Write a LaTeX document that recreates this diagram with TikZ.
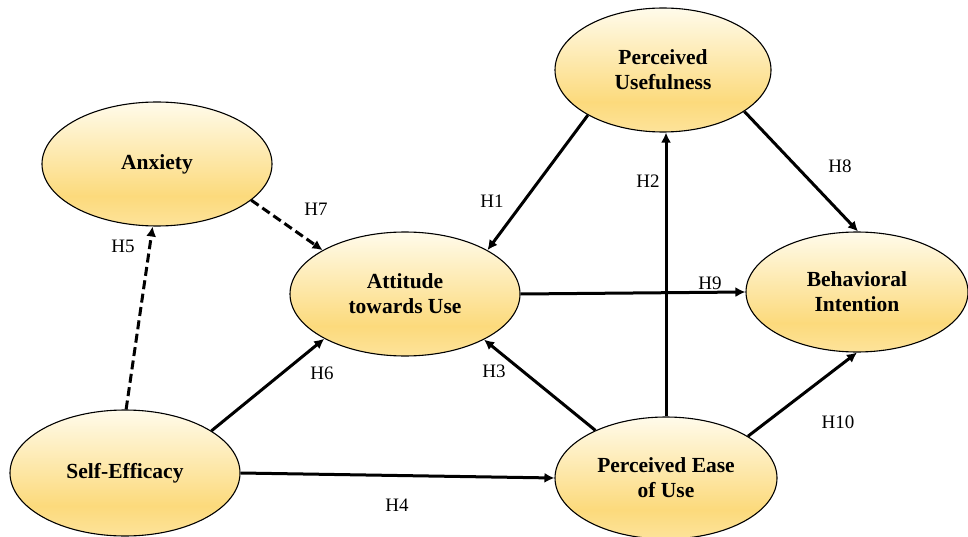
\documentclass[tikz,border=0pt]{standalone}
\usepackage{fontspec}
\setmainfont{Liberation Serif}
\usetikzlibrary{shapes.geometric,arrows.meta}
\definecolor{gTop}{HTML}{FFFBEB}
\definecolor{gGold}{HTML}{FCDA7C}
\definecolor{gBot}{HTML}{FDE39A}
\pgfdeclareverticalshading{goldsh}{100bp}{color(0bp)=(gBot); color(25bp)=(gBot); color(37bp)=(gGold); color(75bp)=(gTop); color(100bp)=(gTop)}
\begin{document}
\begin{tikzpicture}[x=1pt,y=-1pt,
  construct/.style={ellipse, draw=black, line width=1.1pt, shading=goldsh, inner sep=0pt, align=center,
    font=\bfseries\fontsize{21.5}{25}\selectfont},
  link/.style={line width=3pt, -{Latex[length=10pt,width=10pt]}},
  dlink/.style={link, dash pattern=on 9pt off 4.5pt},
  hyp/.style={font=\fontsize{19}{22}\selectfont, inner sep=0pt}
]
\useasboundingbox (0,0) rectangle (968,537);

\node[construct, minimum width=230pt, minimum height=124pt] (anx) at (157,164) {Anxiety};
\node[construct, minimum width=230pt, minimum height=124pt] (att) at (405,294) {Attitude\\towards Use};
\node[construct, minimum width=216pt, minimum height=124pt] (pu) at (663,70) {Perceived\\Usefulness};
\node[construct, minimum width=222pt, minimum height=122pt] (peou) at (666,478) {Perceived Ease\\of Use};
\node[construct, minimum width=230pt, minimum height=126pt] (se) at (125,473) {Self-Efficacy};
\node[construct, minimum width=222pt, minimum height=120pt] (bi) at (857,292) {Behavioral\\Intention};

\draw[dlink] (se.89) -- (anx.266);
\draw[dlink] (anx.339) -- (att.152);
\draw[link] (pu.211) -- (att.28.5);
\draw[link] (peou.north) -- (peou.north |- pu.south);
\draw[link] (pu.333) -- (bi.89);
\draw[link] (att.east) -- (bi.west);
\draw[link] (peou.146) -- (att.330);
\draw[link] (se.26.8) -- (att.209);
\draw[link] (se.east) -- (peou.west);
\draw[link] (peou.27.6) -- (bi.270);

\node[hyp] (h5) at (123,246) {H5};
\node[hyp] (h7) at (316,209) {H7};
\node[hyp] (h1) at (492,201) {H1};
\node[hyp] (h2) at (648,181) {H2};
\node[hyp] (h8) at (840,166) {H8};
\node[hyp] (h9) at (710,283) {H9};
\node[hyp] (h3) at (494,371) {H3};
\node[hyp] (h6) at (322,373) {H6};
\node[hyp] (h4) at (397,505) {H4};
\node[hyp] (h10) at (838,422) {H10};
\end{tikzpicture}
\end{document}
